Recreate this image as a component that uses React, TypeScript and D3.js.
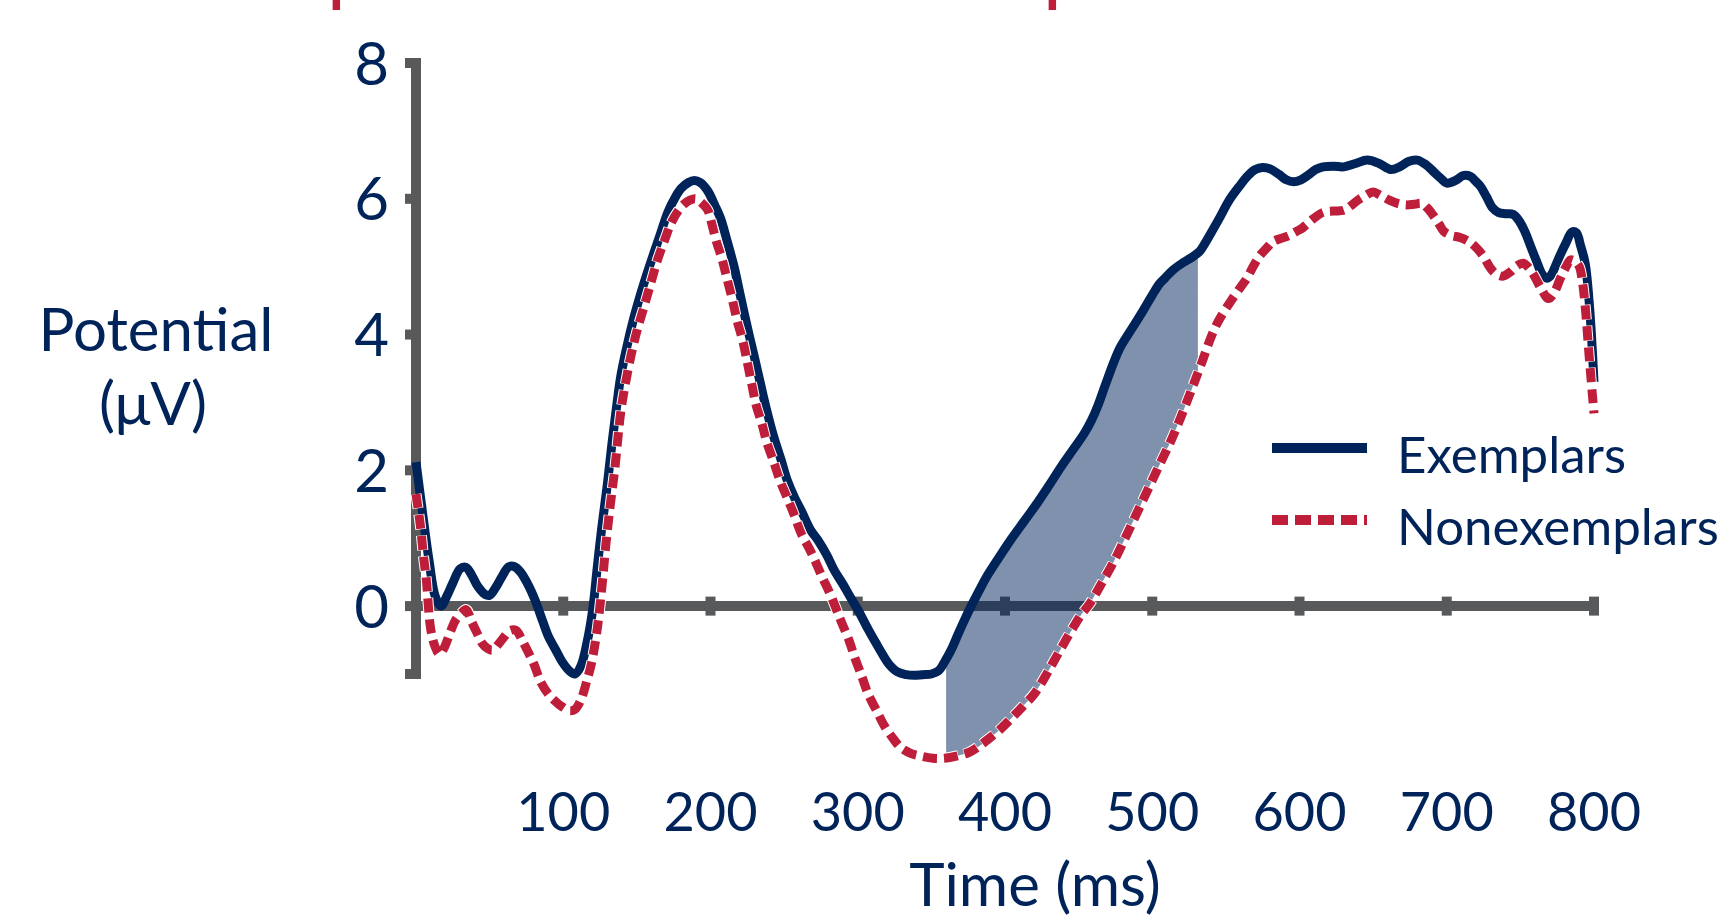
import React from 'react';
import * as d3 from 'd3';

// colours picked off the slide
const NAVY = '#00245a';
const RED = '#be1e3a';
const GRAY = '#58595b';
const FONT = 'Lato, "Open Sans", sans-serif';

// axis ticks
const xTicks = [100, 200, 300, 400, 500, 600, 700, 800];
const yTicks = [0, 2, 4, 6, 8];

// grand average ERP, exemplars (solid navy)
const exemplarTimes = [
  0, 4, 9, 13, 17, 21, 25, 30, 34, 38, 42, 47, 50, 54, 58, 63, 67, 71, 76, 81,
  86, 90, 95, 99, 104, 108, 112, 116, 120, 123, 126, 130, 133, 136, 139, 143, 148, 154, 160, 166,
  171, 176, 180, 185, 189, 193, 198, 203, 207, 211, 216, 220, 225, 230, 234, 238, 243, 248, 252, 257,
  262, 268, 273, 279, 284, 290, 295, 300, 307, 312, 316, 321, 327, 333, 338, 344, 350, 355, 359, 364,
  368, 373, 377, 383, 388, 396, 404, 413, 422, 430, 438, 446, 454, 459, 463, 468, 474, 478, 483, 488,
  494, 500, 505, 509, 514, 521, 527, 532, 536, 540, 546, 552, 559, 565, 570, 575, 580, 586, 591, 596,
  601, 606, 611, 616, 623, 630, 638, 646, 654, 662, 668, 674, 680, 686, 691, 696, 700, 706, 711, 716,
  720, 723, 727, 731, 735, 740, 745, 749, 753, 757, 761, 765, 768, 771, 774, 777, 781, 785, 788, 791,
  794, 797, 800
];
const exemplarValues = [
  2.12, 1.45, 0.65, 0.15, 0.0, 0.15, 0.34, 0.55, 0.57, 0.45, 0.29, 0.17, 0.16, 0.27, 0.42, 0.58, 0.58, 0.5, 0.32, 0.08,
  -0.22, -0.45, -0.65, -0.81, -0.95, -1.0, -0.88, -0.55, -0.05, 0.55, 1.13, 1.8, 2.38, 2.9, 3.38, 3.8, 4.25, 4.7, 5.1, 5.48,
  5.8, 6.02, 6.15, 6.24, 6.27, 6.24, 6.12, 5.9, 5.7, 5.4, 5.0, 4.6, 4.11, 3.65, 3.27, 2.9, 2.49, 2.15, 1.86, 1.6,
  1.39, 1.12, 0.97, 0.75, 0.53, 0.32, 0.13, -0.05, -0.34, -0.53, -0.68, -0.85, -0.97, -1.01, -1.02, -1.01, -1.0, -0.95, -0.82, -0.62,
  -0.42, -0.18, 0.0, 0.25, 0.45, 0.72, 0.98, 1.25, 1.52, 1.78, 2.05, 2.3, 2.55, 2.75, 2.95, 3.25, 3.6, 3.8, 3.98, 4.15,
  4.36, 4.58, 4.75, 4.84, 4.95, 5.06, 5.14, 5.22, 5.35, 5.5, 5.73, 5.97, 6.18, 6.34, 6.43, 6.46, 6.44, 6.36, 6.28, 6.25,
  6.28, 6.35, 6.43, 6.47, 6.48, 6.47, 6.52, 6.57, 6.52, 6.43, 6.47, 6.55, 6.57, 6.5, 6.4, 6.3, 6.23, 6.27, 6.34, 6.33,
  6.25, 6.18, 6.03, 5.87, 5.8, 5.78, 5.77, 5.68, 5.52, 5.3, 5.08, 4.88, 4.83, 4.88, 5.02, 5.17, 5.35, 5.51, 5.5, 5.3,
  5.05, 4.4, 3.3
];

// grand average ERP, nonexemplars (dashed red)
const nonexemplarTimes = [
  0, 3, 5, 7, 10, 13, 16, 19, 23, 27, 31, 34, 38, 42, 45, 49, 52, 56, 60, 64,
  68, 72, 76, 80, 85, 90, 94, 99, 104, 108, 112, 116, 119, 122, 124, 127, 129, 132, 135, 139,
  142, 146, 150, 155, 160, 164, 169, 173, 178, 182, 186, 190, 194, 198, 201, 204, 208, 211, 215, 218,
  222, 225, 228, 231, 235, 238, 243, 247, 252, 256, 262, 267, 272, 276, 280, 285, 289, 294, 298, 303,
  307, 313, 318, 324, 329, 336, 343, 351, 359, 367, 375, 382, 388, 396, 404, 412, 420, 427, 433, 440,
  447, 452, 458, 466, 474, 482, 490, 498, 506, 513, 519, 526, 533, 541, 546, 553, 560, 564, 569, 573,
  578, 582, 588, 593, 598, 602, 609, 616, 623, 630, 635, 639, 645, 650, 655, 661, 667, 673, 678, 683,
  687, 691, 695, 698, 703, 709, 715, 720, 725, 729, 733, 738, 743, 748, 752, 755, 759, 764, 769, 773,
  777, 781, 784, 787, 790, 792, 794, 797, 800
];
const nonexemplarValues = [
  1.65, 1.18, 0.75, 0.39, -0.34, -0.6, -0.71, -0.62, -0.4, -0.2, -0.1, -0.05, -0.24, -0.42, -0.55, -0.63, -0.65, -0.56, -0.45, -0.36,
  -0.36, -0.5, -0.67, -0.85, -1.13, -1.3, -1.39, -1.48, -1.54, -1.52, -1.38, -1.1, -0.86, -0.5, -0.18, 0.45, 0.92, 1.5, 2.02, 2.85,
  3.25, 3.69, 4.05, 4.42, 4.8, 5.1, 5.4, 5.63, 5.82, 5.92, 5.98, 6.0, 5.94, 5.84, 5.62, 5.37, 5.1, 4.84, 4.5, 4.21,
  3.9, 3.59, 3.27, 2.96, 2.68, 2.43, 2.12, 1.86, 1.6, 1.39, 1.05, 0.85, 0.62, 0.42, 0.24, -0.02, -0.24, -0.5, -0.76, -1.05,
  -1.29, -1.55, -1.76, -1.95, -2.08, -2.17, -2.21, -2.24, -2.24, -2.21, -2.16, -2.07, -1.97, -1.83, -1.66, -1.48, -1.29, -1.05, -0.82, -0.55,
  -0.29, -0.12, 0.05, 0.35, 0.66, 1.02, 1.39, 1.76, 2.13, 2.45, 2.76, 3.15, 3.55, 4.02, 4.24, 4.48, 4.7, 4.82, 5.02, 5.16,
  5.28, 5.37, 5.42, 5.46, 5.52, 5.57, 5.7, 5.8, 5.82, 5.83, 5.9, 5.97, 6.05, 6.1, 6.05, 5.98, 5.93, 5.91, 5.92, 5.93,
  5.86, 5.75, 5.62, 5.52, 5.46, 5.43, 5.37, 5.28, 5.15, 5.0, 4.9, 4.86, 4.92, 5.02, 5.05, 5.0, 4.88, 4.68, 4.53, 4.62,
  4.82, 5.0, 5.1, 5.08, 5.0, 4.8, 4.42, 3.6, 2.84
];

// shaded time window where the two conditions differ (ms)
const windowStart = 360;
const windowEnd = 531;

const legendItems = ['Exemplars', 'Nonexemplars'];

const W = 1732;
const H = 916;

const x = d3.scaleLinear().domain([0, 800]).range([416, 1594]);
const y = d3.scaleLinear().domain([-1, 8]).range([674, 63]);

const toPoints = (times: number[], values: number[]): [number, number][] =>
  times.map((t, i) => [t, values[i]]);

const line = d3.line<[number, number]>()
  .x((d) => x(d[0]))
  .y((d) => y(d[1]))
  .curve(d3.curveCatmullRom.alpha(0.5));

// piecewise linear lookups used for the shaded band
const exemplarAt = d3.scaleLinear().domain(exemplarTimes).range(exemplarValues);
const nonexemplarAt = d3.scaleLinear().domain(nonexemplarTimes).range(nonexemplarValues);

const area = d3.area<number>()
  .x((t) => x(t))
  .y0((t) => y(nonexemplarAt(t)))
  .y1((t) => y(exemplarAt(t)));

const Axes = () => {
  const x0 = x(0);
  const y0 = y(0);
  return (
    <g fill={GRAY}>
      <line x1={x0} x2={x0} y1={y(8) - 5} y2={y(-1) + 5} stroke={GRAY} strokeWidth={10} />
      {[...yTicks, -1].map((v) => (
        <rect key={`yt-${v}`} x={x0 - 11} y={y(v) - 5} width={11} height={10} />
      ))}
      <line x1={x0} x2={x(800) + 5} y1={y0} y2={y0} stroke={GRAY} strokeWidth={10} />
      {xTicks.map((t) => (
        <rect key={`xt-${t}`} x={x(t) - 5} y={y0 - 9.5} width={10} height={19} />
      ))}
    </g>
  );
};

const App = () => {
  const exemplarPts = toPoints(exemplarTimes, exemplarValues);
  const nonexemplarPts = toPoints(nonexemplarTimes, nonexemplarValues);
  const windowTimes = d3.range(windowStart, windowEnd, 1).concat([windowEnd]);

  return (
    <div style={{ position: 'absolute', left: 0, top: 0, width: W, height: H, overflow: 'hidden', background: '#fff' }}>
      <svg width={W} height={H} style={{ display: 'block' }} fontFamily={FONT}>
        {/* title sits above the frame, only the descenders peek in */}
        <g fill={RED} fontWeight="bold" fontSize={60}>
          <text x={329} y={0} textAnchor="end">Exem</text>
          <text x={329} y={0}>plars vs.</text>
          <text x={1045} y={0} textAnchor="end">Nonexem</text>
          <text x={1045} y={0}>plars</text>
        </g>

        <Axes />

        <path d={area(windowTimes) || ''} fill={NAVY} fillOpacity={0.5} />

        <path d={line(exemplarPts) || ''} fill="none" stroke={NAVY} strokeWidth={9} strokeLinejoin="round" />
        <path d={line(nonexemplarPts) || ''} fill="none" stroke="#fff" strokeWidth={11} strokeDasharray="15 6" strokeDashoffset={0.5} />
        <path d={line(nonexemplarPts) || ''} fill="none" stroke={RED} strokeWidth={9} strokeDasharray="14 7" />

        <g fill={NAVY}>
          {yTicks.map((v) => (
            <text key={`yl-${v}`} x={389} y={y(v)} dy="0.36em" textAnchor="end" fontSize={60}>{v}</text>
          ))}
          {xTicks.map((t) => (
            <text key={`xl-${t}`} x={x(t)} y={831} textAnchor="middle" fontSize={54}>{t}</text>
          ))}
          <text x={1035} y={906} textAnchor="middle" fontSize={60}>Time (ms)</text>
          <text x={156} y={351} textAnchor="middle" fontSize={60}>Potential</text>
          <text x={153} y={425} textAnchor="middle" fontSize={60}>(μV)</text>
        </g>

        <g>
          <line x1={1272} x2={1367} y1={448} y2={448} stroke={NAVY} strokeWidth={10} />
          <line x1={1272} x2={1367} y1={520} y2={520} stroke={RED} strokeWidth={10} strokeDasharray="16 7" />
          {legendItems.map((name, i) => (
            <text key={name} x={1397} y={473 + i * 72} fill={NAVY} fontSize={51}>{name}</text>
          ))}
        </g>
      </svg>
    </div>
  );
};

export default App;
